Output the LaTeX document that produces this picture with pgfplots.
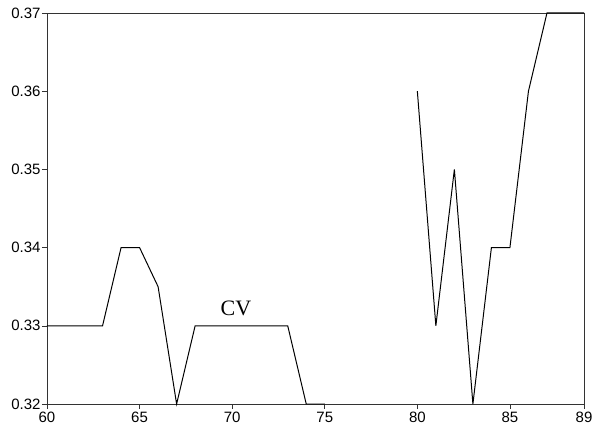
\documentclass[border=0pt]{standalone}
\usepackage{fontspec}
\setmainfont{Liberation Sans}
\newfontfamily\seriffont{Liberation Serif}
\usepackage{pgfplots}
\pgfplotsset{compat=1.18}
\begin{document}
\begin{tikzpicture}
\begin{axis}[
  scale only axis,
  width=537bp, height=391bp,
  xmin=60, xmax=89, ymin=0.32, ymax=0.37,
  xtick={60,65,70,75,80,85,89},
  ytick={0.32,0.33,0.34,0.35,0.36,0.37},
  yticklabel style={/pgf/number format/fixed,/pgf/number format/fixed zerofill,/pgf/number format/precision=2},
  /pgf/number format/assume math mode=true,
  tick label style={font=\fontsize{15bp}{17bp}\selectfont},
  tick align=outside, tick pos=left,
  major tick length=5bp,
  axis line style={black!80, line width=0.6pt},
  every tick/.style={black!80, line width=0.6pt},
  xticklabel style={yshift=0bp},
  yticklabel style={xshift=2bp},
  clip=false,
  unbounded coords=jump,
]
\addplot[black, line width=1pt] coordinates {
 (60,0.33) (63,0.33) (64,0.34) (65,0.34) (66,0.335) (67,0.32) (68,0.33) (73,0.33) (74,0.32) (75,0.32)
 (76,nan)
 (80,0.36) (81,0.33) (82,0.35) (83,0.32) (84,0.34) (85,0.34) (86,0.36) (87,0.37) (89,0.37)
};
\node[font=\seriffont\fontsize{22bp}{24bp}\selectfont] at (axis cs:70.2,0.3322) {CV};
\end{axis}
\pgfresetboundingbox
\path (-47bp,-28bp) rectangle (559bp,404bp);
\end{tikzpicture}
\end{document}
